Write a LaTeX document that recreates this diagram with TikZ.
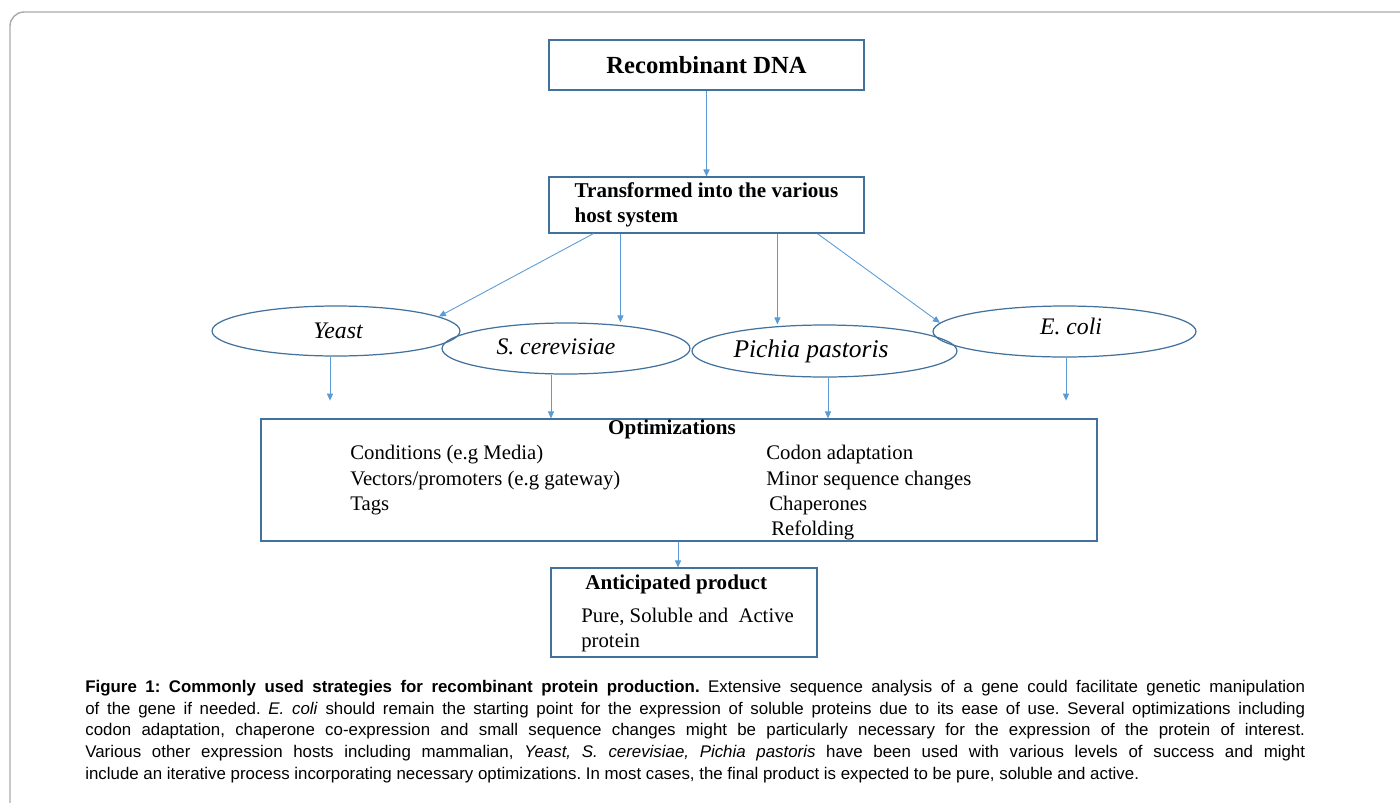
\documentclass[tikz,border=0pt]{standalone}
\usepackage{fontspec}
\setmainfont{Liberation Serif}
\newfontfamily\capfont{Liberation Sans}
\usetikzlibrary{shapes.geometric,arrows.meta,calc}
\definecolor{boxblue}{RGB}{65,113,156}
\definecolor{arrblue}{RGB}{91,155,213}
\definecolor{framegray}{RGB}{170,170,170}
\def\ftxt{\fontsize{11.8}{14.5}\selectfont}
\def\fbold{\bfseries\fontsize{12}{14.2}\selectfont}

\begin{document}
\begin{tikzpicture}[x=0.02cm,y=-0.02cm,
    box/.style={draw=boxblue, line width=0.7pt, inner sep=0pt},
    ell/.style={ellipse, draw=boxblue, line width=0.7pt, inner sep=0pt},
    elltxt/.style={inner sep=0pt, font=\fontsize{13.5}{15}\selectfont\itshape},
    arr/.style={draw=arrblue, line width=0.5pt, -{Triangle[length=4pt,width=3.5pt]}},
    txt/.style={inner sep=0pt, anchor=base west, font=\ftxt}]
    \useasboundingbox (0,0) rectangle (1400,802);
    \draw[framegray, line width=0.8pt, rounded corners=8pt] (1405,12) -- (10,12) -- (10,810);

    % boxes
    \node[box, minimum width=6.3cm, minimum height=1cm,
        font=\bfseries\fontsize{14}{16}\selectfont] (dna) at (706.5,65) {Recombinant DNA};
    \node[box, minimum width=6.3cm, minimum height=1.12cm, align=left, font=\fbold]
        (host) at (706.5,205) {Transformed into the various\\host system};

    % hosts
    \node[ell, minimum width=4.96cm, minimum height=1cm] (yeast) at (336,331) {};
    \node[ell, minimum width=4.96cm, minimum height=1.02cm] (scer) at (566,348.5) {};
    \node[ell, minimum width=5.3cm, minimum height=1.04cm] (pichia) at (824.5,351) {};
    \node[ell, minimum width=5.26cm, minimum height=1.02cm] (ecoli) at (1064.5,331.5) {};
    \node[elltxt] (yeastt) at (338,331) {Yeast};
    \node[elltxt] (scert) at (556,347) {S. cerevisiae};
    \node[elltxt, font=\fontsize{14.5}{16}\selectfont\itshape] (pichiat) at (811,351) {Pichia pastoris};
    \node[elltxt] (ecolit) at (1071,326) {E. coli};

    % optimizations
    \node[box, minimum width=16.72cm, minimum height=2.44cm] (opt) at (679,480) {};
    \node[inner sep=0pt, anchor=base, font=\fbold] (opttitle) at (672,434) {Optimizations};
    \node[txt] (cond) at (350,459) {Conditions (e.g Media)};
    \node[txt] (vec) at (350,485) {Vectors/promoters (e.g gateway)};
    \node[txt] (tags) at (350,510) {Tags};
    \node[txt] (codon) at (766,459) {Codon adaptation};
    \node[txt] (minor) at (766,485) {Minor sequence changes};
    \node[txt] (chap) at (769,510) {Chaperones};
    \node[txt] (refold) at (771,535) {Refolding};

    % product
    \node[box, minimum width=5.32cm, minimum height=1.78cm] (prod) at (684,612.5) {};
    \node[inner sep=0pt, anchor=base west, font=\fbold] (prodtitle) at (585,589) {Anticipated product};
    \node[txt] (prodl1) at (581,622) {Pure, Soluble and\ \ Active};
    \node[txt] (prodl2) at (581,647) {protein};

    % arrows
    \draw[arr] (dna) -- (host);
    \coordinate (h1) at ($(host.south west)+(45,0)$);
    \coordinate (h2) at ($(host.south west)+(72,0)$);
    \coordinate (h3) at ($(host.south west)+(229,0)$);
    \coordinate (h4) at ($(host.south west)+(269,0)$);
    \draw[arr] (h1) -- (yeast.8);
    \draw[arr] (h2) -- (h2 |- scer.north);
    \draw[arr] (h3) -- (h3 |- pichia.north);
    \draw[arr] (h4) -- (ecoli.176);

    \coordinate (y1) at ($(yeast.south)+(-6,0)$);
    \coordinate (yend) at ($(y1)+(0,44)$);
    \draw[arr] (y1) -- (yend);
    \coordinate (s1) at ($(scer.south)+(-15,0)$);
    \draw[arr] (s1) -- (s1 |- opt.north);
    \coordinate (p1) at ($(pichia.south)+(3.5,0)$);
    \draw[arr] (p1) -- (p1 |- opt.north);
    \coordinate (e1) at ($(ecoli.south)+(1.5,0)$);
    \coordinate (eend) at ($(e1)+(0,43)$);
    \draw[arr] (e1) -- (eend);
    \coordinate (o1) at ($(opt.south)+(-1,0)$);
    \draw[arr] (o1) -- (o1 |- prod.north);

    % caption
    \node[anchor=north west, inner sep=0pt, text width=24.4cm, align=justify,
        font=\capfont\frenchspacing\fontsize{9.6}{12.3}\selectfont] (cap) at (85,680)
        {\textbf{Figure 1: Commonly used strategies for recombinant protein production.} Extensive sequence analysis of a gene could facilitate genetic manipulation\linebreak
        of the gene if needed. \textit{E. coli} should remain the starting point for the expression of soluble proteins due to its ease of use. Several optimizations including\linebreak
        codon adaptation, chaperone co-expression and small sequence changes might be particularly necessary for the expression of the protein of interest.\linebreak
        Various other expression hosts including mammalian, \textit{Yeast, S. cerevisiae, Pichia pastoris} have been used with various levels of success and might\linebreak
        include an iterative process incorporating necessary optimizations. In most cases, the final product is expected to be pure, soluble and active.};
\end{tikzpicture}
\end{document}
